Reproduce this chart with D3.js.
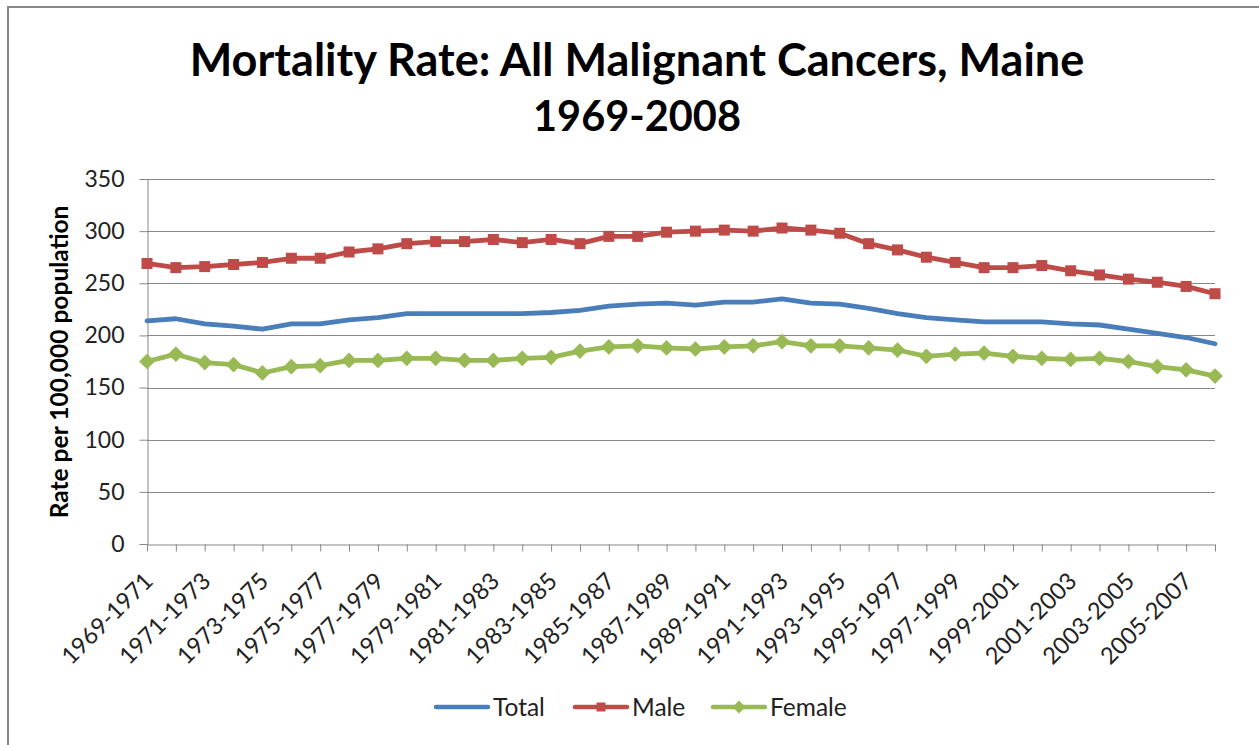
<!DOCTYPE html>
<html>
<head>
<meta charset="utf-8">
<script src="https://cdn.jsdelivr.net/npm/d3@7"></script>
<style>
  body { margin: 0; background: #fff; }
  svg { display: block; font-family: Lato, "Open Sans", sans-serif; }
</style>
</head>
<body>
<svg id="chart" width="1259" height="745"></svg>
<script>
// categories (3-year periods)
const periods = [
  "1969-1971", "1970-1972", "1971-1973", "1972-1974", "1973-1975", "1974-1976",
  "1975-1977", "1976-1978", "1977-1979", "1978-1980", "1979-1981", "1980-1982",
  "1981-1983", "1982-1984", "1983-1985", "1984-1986", "1985-1987", "1986-1988",
  "1987-1989", "1988-1990", "1989-1991", "1990-1992", "1991-1993", "1992-1994",
  "1993-1995", "1994-1996", "1995-1997", "1996-1998", "1997-1999", "1998-2000",
  "1999-2001", "2000-2002", "2001-2003", "2002-2004", "2003-2005", "2004-2006",
  "2005-2007", "2006-2008"
]

const total = [
  214, 216, 211, 209, 206, 211, 211, 215, 217, 221, 221, 221, 221,
  221, 222, 224, 228, 230, 231, 229, 232, 232, 235, 231, 230, 226,
  221, 217, 215, 213, 213, 213, 211, 210, 206, 202, 198, 192
]
const male = [
  269, 265, 266, 268, 270, 274, 274, 280, 283, 288, 290, 290, 292,
  289, 292, 288, 295, 295, 299, 300, 301, 300, 303, 301, 298, 288,
  282, 275, 270, 265, 265, 267, 262, 258, 254, 251, 247, 240
]
const female = [
  175, 182, 174, 172, 164, 170, 171, 176, 176, 178, 178, 176, 176,
  178, 179, 185, 189, 190, 188, 187, 189, 190, 194, 190, 190, 188,
  186, 180, 182, 183, 180, 178, 177, 178, 175, 170, 167, 161
]

const yTicks = [0, 50, 100, 150, 200, 250, 300, 350]

const series = [
  {name: "Total", values: total, color: "#4a7ebb", marker: null},
  {name: "Male", values: male, color: "#be4b48", marker: "square"},
  {name: "Female", values: female, color: "#98b954", marker: "diamond"}
]

// layout
const plot = {left: 147, right: 1215, top: 179, bottom: 544}
const gridColor = "#878787"

const svg = d3.select("#chart")

// outer frame (runs off the right/bottom edge like the source)
svg.append("rect")
  .attr("x", 8).attr("y", 7)
  .attr("width", 1300).attr("height", 800)
  .attr("fill", "none")
  .attr("stroke", "#888")
  .attr("stroke-width", 2)

const x = d3.scalePoint().domain(periods).range([plot.left, plot.right])
const y = d3.scaleLinear().domain([0, 350]).range([plot.bottom, plot.top])

// fit a text to the width it has in the source
function fitText(sel, width) {
  let w = sel.node().getComputedTextLength()
  let fs = parseFloat(sel.attr("font-size"))
  sel.attr("font-size", fs * width / w)
}
const t1 = svg.append("text")
  .attr("x", 637).attr("y", 76)
  .attr("text-anchor", "middle")
  .attr("font-size", 40).attr("font-weight", "bold")
  .text("Mortality Rate: All Malignant Cancers, Maine")
fitText(t1, 895)
const t2 = svg.append("text")
  .attr("x", 637).attr("y", 131)
  .attr("text-anchor", "middle")
  .attr("font-size", 40).attr("font-weight", "bold")
  .text("1969-2008")
fitText(t2, 208)

// gridlines
svg.append("g")
  .selectAll("line")
  .data(yTicks.filter(d => d > 0))
  .join("line")
  .attr("x1", plot.left).attr("x2", plot.right)
  .attr("y1", d => Math.round(y(d)) + 0.5).attr("y2", d => Math.round(y(d)) + 0.5)
  .attr("stroke", gridColor)

// y axis
const yAxis = svg.append("g")
  .attr("transform", `translate(${plot.left + 0.5},0)`)
  .call(d3.axisLeft(y).tickValues(yTicks).tickSize(8).tickSizeOuter(0).tickPadding(15))
yAxis.select(".domain").attr("stroke", gridColor)
yAxis.selectAll(".tick line").attr("stroke", gridColor)
yAxis.selectAll(".tick text")
  .attr("font-size", 23).attr("fill", "#222")
  .attr("font-family", "Lato, sans-serif")

// x axis
const xAxis = svg.append("g")
  .attr("transform", `translate(0,${plot.bottom + 0.5})`)
  .call(d3.axisBottom(x)
    .tickSize(7).tickSizeOuter(0)
    .tickFormat((d, i) => i % 2 === 0 ? d : ""))
xAxis.select(".domain").attr("stroke", gridColor)
xAxis.selectAll(".tick line").attr("stroke", gridColor)
xAxis.selectAll(".tick text")
  .attr("font-size", 23.5).attr("fill", "#222")
  .attr("font-family", "Lato, sans-serif")
  .attr("text-anchor", "end")
  .attr("dy", null)
  .attr("y", 0)
  .attr("transform", "translate(7,38) rotate(-45)")

// y axis title
const yt = svg.append("text")
  .attr("transform", "translate(68,362) rotate(-90)")
  .attr("text-anchor", "middle")
  .attr("font-size", 20).attr("font-weight", "bold")
  .text("Rate per 100,000 population")
fitText(yt, 313)

// lines
const line = d3.line()
  .x((d, i) => x(periods[i]))
  .y(d => y(d))

function drawMarker(g, type, color, size) {
  if (type === "square") {
    g.append("rect")
      .attr("x", -size / 2).attr("y", -size / 2)
      .attr("width", size).attr("height", size)
      .attr("fill", color)
  } else if (type === "diamond") {
    g.append("path")
      .attr("d", d3.symbol(d3.symbolDiamond2, size * size * 1.3)())
      .attr("fill", color)
  }
}

for (const s of series) {
  svg.append("path")
    .datum(s.values)
    .attr("d", line)
    .attr("fill", "none")
    .attr("stroke", s.color)
    .attr("stroke-width", 4.8)
    .attr("stroke-linejoin", "round")
    .attr("stroke-linecap", "round")
  if (s.marker) {
    svg.append("g")
      .selectAll("g")
      .data(s.values)
      .join("g")
      .attr("transform", (d, i) => `translate(${x(periods[i])},${y(d)})`)
      .each(function () { drawMarker(d3.select(this), s.marker, s.color, 11) })
  }
}

// legend
const legendItems = [
  {x: 436, tx: 493},
  {x: 575, tx: 632},
  {x: 713, tx: 770}
]
const legend = svg.append("g").attr("transform", "translate(0,707)")
series.forEach((s, i) => {
  const it = legendItems[i]
  const g = legend.append("g")
  g.append("line")
    .attr("x1", it.x).attr("x2", it.x + 52)
    .attr("stroke", s.color).attr("stroke-width", 4.5)
    .attr("stroke-linecap", "round")
  if (s.marker) {
    const m = g.append("g").attr("transform", `translate(${it.x + 26},0)`)
    drawMarker(m, s.marker, s.color, 9)
  }
  g.append("text")
    .attr("x", it.tx).attr("y", 9)
    .attr("font-size", 24.5).attr("fill", "#222")
    .text(s.name)
})
</script>
</body>
</html>
